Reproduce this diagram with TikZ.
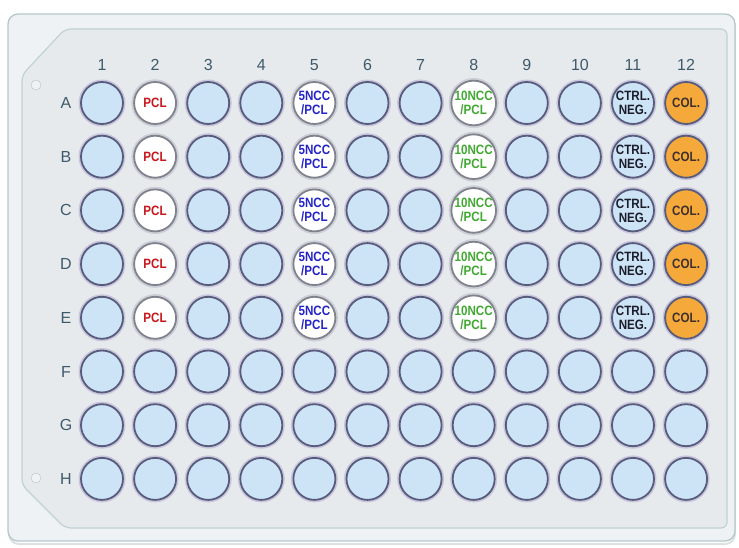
\documentclass[tikz,border=0pt]{standalone}
\usepackage{fontspec}
\setmainfont{Liberation Sans}
\newfontfamily\wellfont[FakeStretch=0.86]{Liberation Sans}
\definecolor{platebg}{HTML}{EEF2F4}
\definecolor{plateedge}{HTML}{B5C7CB}
\definecolor{panelbg}{HTML}{E6EAED}
\definecolor{paneledge}{HTML}{C2D1D5}
\definecolor{labgray}{HTML}{3E5A6A}
\definecolor{wellblue}{HTML}{CCE4F6}
\definecolor{wellrim}{HTML}{585C7C}
\definecolor{wellhalo}{HTML}{C9C6DC}
\definecolor{whiterim}{HTML}{80828E}
\definecolor{whitehalo}{HTML}{CDCFD6}
\definecolor{colorange}{HTML}{F5A93A}
\definecolor{pclred}{HTML}{C8161D}
\definecolor{nccblue}{HTML}{2424C8}
\definecolor{nccgreen}{HTML}{41A832}
\definecolor{ctrlink}{HTML}{1C1C2A}
\tikzset{
  well/.style={circle, minimum size=42pt, inner sep=0pt, fill=wellblue, draw=wellrim, line width=1.8pt,
    preaction={draw=wellhalo, line width=5pt, fill=none}, align=center,
    font=\wellfont\fontsize{13.5}{14}\selectfont\bfseries},
  pclwell/.style={well, fill=white, draw=whiterim, preaction={draw=whitehalo, line width=5pt, fill=none}, text=pclred},
  ncc5well/.style={pclwell, text=nccblue},
  ncc10well/.style={pclwell, text=nccgreen},
  ctrlwell/.style={well, text=ctrlink},
  colwell/.style={well, fill=colorange, text=ctrlink!80!brown},
  collab/.style={text=labgray, font=\fontsize{16}{16}\selectfont},
  rowlab/.style={text=labgray, font=\fontsize{16}{16}\selectfont}
}
\begin{document}
\begin{tikzpicture}[x=1pt, y=-1pt]
\useasboundingbox (0,0) rectangle (739,548);
% plate and inner panel
\draw [platebg!85!gray, line width=2pt, rounded corners=10] (9,17) rectangle (735,544);
\draw [fill=platebg, draw=plateedge, line width=1.3pt, rounded corners=10] (8,14) rectangle (735,541);
\draw [fill=panelbg, draw=paneledge, line width=1.2pt, rounded corners=6]
  (22,75) -- (65,29) -- (727,29) -- (727,528) -- (65,528) -- (22,485) -- cycle;
\node [circle, draw=paneledge!80!gray, fill=platebg, minimum size=10pt, inner sep=0pt] (hole-top) at (36,85) {};
\node [circle, draw=paneledge!80!gray, fill=platebg, minimum size=10pt, inner sep=0pt] (hole-bot) at (36,478) {};
% labels
\foreach \c in {1,...,12}
  \node [collab] (col-\c) at ({102+(\c-1)*53.1}, 65) {\c};
\foreach \r [count=\i] in {A,...,H}
  \node [rowlab] (row-\r) at (66, {103+(\i-1)*53.7}) {\r};
% wells
\foreach \r [count=\i] in {A,...,H} {
  \foreach \c in {1,...,12} {
    \def\wstyle{well}\def\wtext{}
    \ifnum\i<6
      \ifnum\c=2 \def\wstyle{pclwell}\def\wtext{PCL}\fi
      \ifnum\c=5 \def\wstyle{ncc5well}\def\wtext{5NCC\\/PCL}\fi
      \ifnum\c=8 \def\wstyle{ncc10well}\def\wtext{10NCC\\/PCL}\fi
      \ifnum\c=11 \def\wstyle{ctrlwell}\def\wtext{CTRL.\\NEG.}\fi
      \ifnum\c=12 \def\wstyle{colwell}\def\wtext{COL.}\fi
    \fi
    \node [\wstyle] (w-\r\c) at ({102+(\c-1)*53.1}, {103+(\i-1)*53.7}) {\wtext};
  }
}
\end{tikzpicture}
\end{document}
